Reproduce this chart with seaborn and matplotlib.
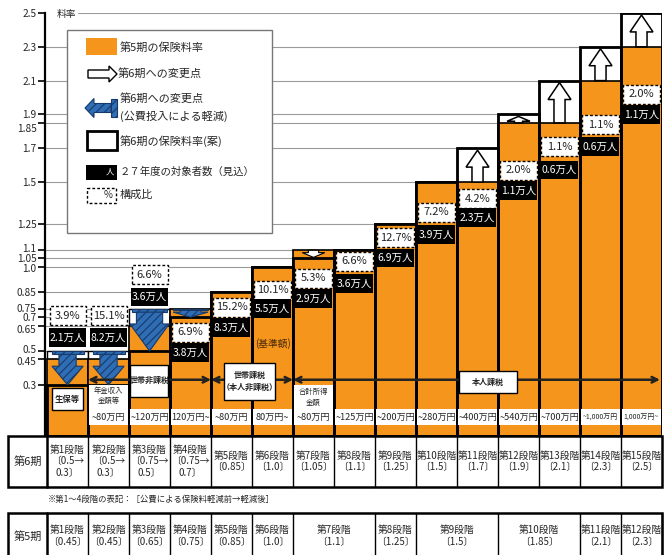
import numpy as np
import pandas as pd
import matplotlib
matplotlib.use('Agg')
import matplotlib.pyplot as plt
import seaborn as sns
from matplotlib.patches import Rectangle, FancyArrow
from matplotlib.transforms import ScaledTranslation

# ---------------- data ----------------
period5_stage = ['第1段階', '第2段階', '第3段階', '第4段階', '第5段階', '第6段階',
                 '第7段階', '第8段階', '第9段階', '第10段階', '第11段階', '第12段階']
period5_rate = [0.45, 0.45, 0.65, 0.75, 0.85, 1.0, 1.1, 1.25, 1.5, 1.85, 2.1, 2.3]
period5_span = [1, 1, 1, 1, 1, 1, 2, 1, 2, 2, 1, 1]

period6_stage = ['第1段階', '第2段階', '第3段階', '第4段階', '第5段階', '第6段階',
                 '第7段階', '第8段階', '第9段階', '第10段階', '第11段階', '第12段階',
                 '第13段階', '第14段階', '第15段階']
rate6_before = [0.5, 0.5, 0.75, 0.75, 0.85, 1.0, 1.05, 1.1, 1.25, 1.5, 1.7, 1.9, 2.1, 2.3, 2.5]
rate6_after = [0.3, 0.3, 0.5, 0.7, 0.85, 1.0, 1.05, 1.1, 1.25, 1.5, 1.7, 1.9, 2.1, 2.3, 2.5]
share_pct = [3.9, 15.1, 6.6, 6.9, 15.2, 10.1, 5.3, 6.6, 12.7, 7.2, 4.2, 2.0, 1.1, 1.1, 2.0]
people_10k = [2.1, 8.2, 3.6, 3.8, 8.3, 5.5, 2.9, 3.6, 6.9, 3.9, 2.3, 1.1, 0.6, 0.6, 1.1]
income_label = ['', '~80万円', '~120万円', '120万円~', '~80万円', '80万円~', '~80万円',
                '~125万円', '~200万円', '~280万円', '~400万円', '~540万円', '~700万円',
                '~1,000万円', '1,000万円~']
y_ticks = [0.3, 0.45, 0.5, 0.65, 0.7, 0.75, 0.85, 1.0, 1.05, 1.1, 1.25, 1.5, 1.7,
           1.85, 1.9, 2.1, 2.3, 2.5]
y_tick_labels = ['0.3', '0.45', '0.5', '0.65', '0.7', '0.75', '0.85', '1.0', '1.05', '1.1',
                 '1.25', '1.5', '1.7', '1.85', '1.9', '2.1', '2.3', '2.5']

rate5 = np.repeat(period5_rate, period5_span)   # 第5期 rate under each 第6期 column

# ---------------- layout (label anchors, px geometry) ----------------
pct_y = [0.71, 0.71, 0.95, 0.61, 0.76, 0.86, 0.93, 1.03, 1.17, 1.32, 1.40, 1.57, 1.71, 1.84, 2.02]
pop_y = [0.58, 0.58, 0.82, 0.49, 0.64, 0.75, 0.81, 0.90, 1.05, 1.19, 1.29, 1.45, 1.57, 1.71, 1.90]

ORANGE = '#F5951C'
BLUE = '#2F6DB5'
DBLUE = '#173a6a'

sns.set_theme(style='white')
plt.rcParams['font.family'] = ['Noto Sans CJK JP', 'DejaVu Sans']
plt.rcParams['hatch.linewidth'] = 0.8

W, H = 667, 555
fig = plt.figure(figsize=(W / 100, H / 100), dpi=100)
AX_L, AX_R, AX_T, AX_B = 45, 662, 13, 435.5
ax = fig.add_axes([AX_L / W, 1 - AX_B / H, (AX_R - AX_L) / W, (AX_B - AX_T) / H])
ov = fig.add_axes([0, 0, 1, 1])
ov.set_zorder(5)
ov.set_xlim(0, W)
ov.set_ylim(H, 0)
ov.axis('off')
ov.patch.set_alpha(0)

COL0, COLW = 47, 41


def cx(i):
    return COL0 + COLW * i


cols = np.arange(15)
df = pd.DataFrame({'col': cols, 'rate5': rate5})

# gridlines
for t in y_ticks:
    xmin = (78 - AX_L) / (AX_R - AX_L) if t == 2.5 else 0
    ax.axhline(t, xmin=xmin, color='#9a9a9a', lw=0.8, zorder=0)

# 第6期 (before reduction) white boxes
ax.bar(cols, rate6_before, width=1, color='white', edgecolor='black', linewidth=1.0, zorder=1)
# 第5期 orange bars
sns.barplot(data=df, x='col', y='rate5', color=ORANGE, saturation=1, width=1,
            edgecolor='black', linewidth=1.2, zorder=2, ax=ax)
# 第6期 outline (after reduction)
ax.bar(cols, rate6_after, width=1, fill=False, edgecolor='black', linewidth=2.0, zorder=3)

ax.set_xlim(-0.55, 14.5)
ax.set_ylim(0, 2.5)
ax.set_xlabel('')
ax.set_ylabel('')
ax.set_xticks([])
ax.set_yticks(y_ticks)
ax.set_yticklabels(y_tick_labels, fontsize=7.3)
ax.tick_params(axis='y', direction='out', length=5, width=1.2, color='black', pad=1, left=True)
for s in ['top', 'right', 'bottom']:
    ax.spines[s].set_visible(False)
ax.spines['left'].set_linewidth(1.6)
ax.spines['left'].set_color('black')
ax.set_facecolor('white')
shift = {'1.85': -5, '1.1': 2, '1.0': -2, '0.65': -3, '0.75': 1, '0.5': 2, '0.45': -2}
for lbl in ax.get_yticklabels():
    d = shift.get(lbl.get_text(), 0)
    if d:
        lbl.set_transform(lbl.get_transform() + ScaledTranslation(0, d / 100, fig.dpi_scale_trans))


# blue reduction arrows
def blue_arrow(x, y0, y1, w, hw, hl, capw, caph):
    ax.add_patch(Rectangle((x - capw / 2, y0 - caph), capw, caph, fc=BLUE, ec=DBLUE,
                           hatch='////', lw=0.8, zorder=5))
    ax.add_patch(FancyArrow(x, y0 - caph, 0, y1 - (y0 - caph), width=w, head_width=hw,
                            head_length=hl, length_includes_head=True, fc=BLUE, ec=DBLUE,
                            hatch='////', lw=0.8, zorder=5))


for i in range(4):
    if i < 2:
        blue_arrow(i, rate6_before[i], rate6_after[i], 0.42, 0.76, 0.11, 0.78, 0.02)
    elif i == 2:
        blue_arrow(i, rate6_before[i], rate6_after[i], 0.64, 0.96, 0.16, 0.86, 0.02)
    else:
        blue_arrow(i, rate6_before[i], rate6_after[i], 0.5, 0.85, 0.03, 0.85, 0.01)

# white change arrows
for i in range(4, 15):
    r5, r6 = rate5[i], rate6_before[i]
    if r6 > r5:
        d = r6 - r5 - 0.012
        hl = min(0.1, d * 0.75)
        ax.add_patch(FancyArrow(i, r5, 0, d, width=0.27 if d > 0.06 else 0.2,
                                head_width=0.56, head_length=hl, length_includes_head=True,
                                fc='white', ec='black', lw=1.1, zorder=5))
    elif r6 < r5:
        ax.add_patch(FancyArrow(i, r5 - 0.004, 0, r6 - r5 + 0.008, width=0.25, head_width=0.55,
                                head_length=0.028, length_includes_head=True,
                                fc='white', ec='black', lw=0.8, zorder=5))

# share / people labels
for i in cols:
    ax.add_patch(Rectangle((i - 0.44, pct_y[i] - 0.056), 0.88, 0.112, fc='white', ec='black',
                           ls=(0, (2, 1.5)), lw=1, zorder=6))
    ax.text(i, pct_y[i], f'{share_pct[i]:.1f}%', ha='center', va='center', fontsize=8,
            color='#222', zorder=7)
    ax.add_patch(Rectangle((i - 0.46, pop_y[i] - 0.055), 0.92, 0.11, fc='black', ec='none',
                           zorder=6))
    ax.text(i, pop_y[i], f'{people_10k[i]:.1f}万人', ha='center', va='center', fontsize=7.5,
            color='white', zorder=7)

ax.text(5, 0.547, '(基準額)', ha='center', va='center', fontsize=7, color='#4a2a0a', zorder=7)

# income strips
for i in cols:
    if i == 0:
        continue
    top = 0.3 if i in (1, 6) else 0.155
    ax.add_patch(Rectangle((i - 0.47, 0.06), 0.94, top - 0.06, fc='white', ec='none', zorder=4))
    fs = 5 if '1,000' in income_label[i] else 6.6
    ax.text(i, 0.105, income_label[i], ha='center', va='center', fontsize=fs, zorder=7)
ax.text(1, 0.235, '年金収入\n金額等', ha='center', va='center', fontsize=5.3, linespacing=1.4, zorder=7)
ax.text(6, 0.225, '合計所得\n金額', ha='center', va='center', fontsize=5.3, linespacing=1.4, zorder=7)
ax.add_patch(Rectangle((-0.38, 0.15), 0.76, 0.13, fc='white', ec='black', lw=1, zorder=6))
ax.text(0, 0.215, '生保等', ha='center', va='center', fontsize=6, fontweight='bold', zorder=7)


# tax category spans
def span_arrow(x0, x1, y):
    ax.annotate('', xy=(x1, y), xytext=(x0, y),
                arrowprops=dict(arrowstyle='<->', lw=1.8, color='#222', shrinkA=0, shrinkB=0,
                                mutation_scale=10), zorder=5)


span_arrow(0.5, 3.5, 0.33)
span_arrow(3.5, 5.5, 0.33)
span_arrow(5.5, 14.45, 0.33)
ax.add_patch(Rectangle((1.53, 0.225), 0.93, 0.195, fc='white', ec='black', lw=1, zorder=6))
ax.text(1.995, 0.325, '世帯非課税', ha='center', va='center', fontsize=5.8, fontweight='bold', zorder=7)
ax.add_patch(Rectangle((3.82, 0.21), 1.24, 0.22, fc='white', ec='black', lw=1, zorder=6))
ax.text(4.44, 0.32, '世帯課税\n（本人非課税）', ha='center', va='center', fontsize=5.8,
        fontweight='bold', linespacing=1.5, zorder=7)
ax.add_patch(Rectangle((9.55, 0.25), 1.41, 0.13, fc='white', ec='black', lw=1, zorder=6))
ax.text(10.255, 0.315, '本人課税', ha='center', va='center', fontsize=5.8, fontweight='bold', zorder=7)

# 料率 label
ov.text(57, 14, '料率', ha='left', va='center', fontsize=7)

# ---------------- legend ----------------
ov.add_patch(Rectangle((67, 30), 205, 203, fc='white', ec='#777', lw=1))
LF = 8
ov.add_patch(Rectangle((86, 38), 31, 17, fc=ORANGE, ec='none'))
ov.text(120, 47, '第5期の保険料率', va='center', fontsize=LF)
ov.add_patch(FancyArrow(88, 74, 29, 0, width=8, head_width=16, head_length=8,
                        length_includes_head=True, fc='white', ec='black', lw=1))
ov.text(118, 73, '第6期への変更点', va='center', fontsize=LF)
ov.add_patch(Rectangle((111, 99), 6, 18, fc=BLUE, ec=DBLUE, hatch='////', lw=0.8))
ov.add_patch(FancyArrow(111, 108, -26, 0, width=9, head_width=19, head_length=9,
                        length_includes_head=True, fc=BLUE, ec=DBLUE, hatch='////', lw=0.8))
ov.text(120, 98, '第6期への変更点', va='center', fontsize=LF)
ov.text(120, 116, '(公費投入による軽減)', va='center', fontsize=LF)
ov.add_patch(Rectangle((87, 131), 30, 19, fc='white', ec='black', lw=2))
ov.text(120, 141, '第6期の保険料率(案)', va='center', fontsize=LF)
ov.add_patch(Rectangle((86, 165), 31, 15, fc='black', ec='none'))
ov.text(110, 172.5, '人', va='center', ha='center', fontsize=6, color='white')
ov.text(120, 172, '２７年度の対象者数（見込）', va='center', fontsize=7.5)
ov.add_patch(Rectangle((87, 188), 29, 15, fc='white', ec='black', ls=(0, (2, 1.5)), lw=1))
ov.text(108, 195.5, '%', va='center', ha='center', fontsize=7)
ov.text(120, 195, '構成比', va='center', fontsize=LF)


# ---------------- tables ----------------
def fmt(v):
    return f'{v:g}' if v != 1.0 else '1.0'


TF = 7
R6_T, R6_B = 436, 487
ov.add_patch(Rectangle((8, R6_T), 654, R6_B - R6_T, fc='white', ec='black', lw=1.8))
for i in range(15):
    ov.plot([cx(i), cx(i)], [R6_T, R6_B], color='black', lw=1.8 if i == 0 else 1)
ov.text(27.5, (R6_T + R6_B) / 2, '第6期', ha='center', va='center', fontsize=8)
for i in range(15):
    if rate6_before[i] != rate6_after[i]:
        txt = f'{period6_stage[i]}\n〔{fmt(rate6_before[i])}→\n{fmt(rate6_after[i])}〕'
    else:
        txt = f'{period6_stage[i]}\n〔{fmt(rate6_before[i])}〕'
    ov.text(cx(i) + COLW / 2, (R6_T + R6_B) / 2, txt, ha='center', va='center', fontsize=TF,
            linespacing=1.15)

ov.text(48, 499, '※第1～4段階の表記：［公費による保険料軽減前→軽減後］', ha='left', va='center',
        fontsize=6.0)

R5_T, R5_B = 513, 562
ov.add_patch(Rectangle((8, R5_T), 654, R5_B - R5_T, fc='white', ec='black', lw=1.8))
ov.plot([cx(0), cx(0)], [R5_T, R5_B], color='black', lw=1.8)
ov.text(27.5, 536, '第5期', ha='center', va='center', fontsize=8)
start = 0
for st, rt, sp in zip(period5_stage, period5_rate, period5_span):
    x0, x1 = cx(start), cx(start + sp)
    ov.plot([x1, x1], [R5_T, R5_B], color='black', lw=1)
    ov.text((x0 + x1) / 2, 536, f'{st}\n〔{fmt(rt)}〕', ha='center', va='center', fontsize=TF,
            linespacing=1.2)
    start += sp

fig.savefig('out.png', dpi=100)
